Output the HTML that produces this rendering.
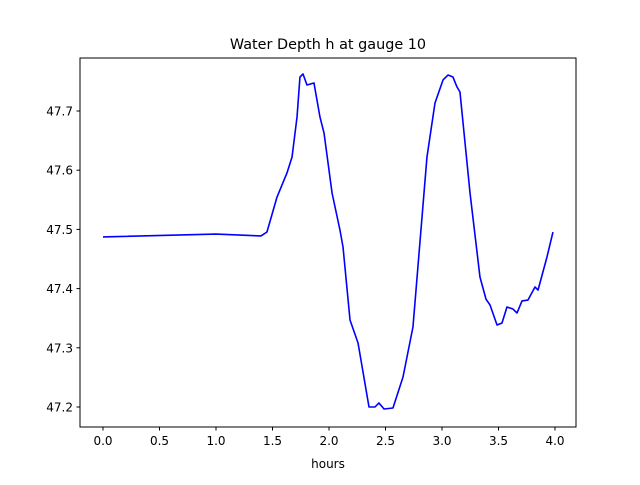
<!DOCTYPE html>
<html><head><meta charset="utf-8"><style>
body{margin:0;background:#fff}
svg{font-family:"DejaVu Sans","Liberation Sans",sans-serif}
</style></head><body>
<svg id="c" width="640" height="480" viewBox="0 0 640 480">
<rect width="640" height="480" fill="#fff"/>
<text x="328" y="49" font-size="14.4" text-anchor="middle">Water Depth h at gauge 10</text>
<text x="328" y="468" font-size="12" text-anchor="middle">hours</text>
<g id="ticks"></g>
<polyline id="line" fill="none" stroke="#0000ff" stroke-width="1.6" stroke-linejoin="round"/>
<rect x="80" y="58" width="496" height="369" fill="none" stroke="#000" stroke-width="1"/>
</svg>
<script>
const pxs=[103,216,261,267,277,287,292,297,300,303,307,314,320,324,332,340,343,350,358,369,375,379,384,393,403,413,427,435,443,448,453,457,460,470,480,486,490,497,502,507,513,517,522,528,535,538,547,553];
const hours=pxs.map(p=>+((p-103)/113).toFixed(3));
const pys=[237,234,236,232,197,173,157,117,77,74,85,83,117,133,193,230,247,320,343,407,407,403,409,408,377,327,157,103,80,75,77,87,92,193,277,299,305,325,323,307,309,313,301,300,287,290,257,232];
const depth=pys.map(p=>+(47.2+(407-p)/592).toFixed(4));
const xTicks=[0,0.5,1,1.5,2,2.5,3,3.5,4];
const xTickLabels=["0.0","0.5","1.0","1.5","2.0","2.5","3.0","3.5","4.0"];
const yTicks=[47.2,47.3,47.4,47.5,47.6,47.7];
const yTickLabels=["47.2","47.3","47.4","47.5","47.6","47.7"];
const X=h=>103+h*113, Y=v=>407-(v-47.2)*592;
const ns="http://www.w3.org/2000/svg", g=document.getElementById('ticks');
function mk(t,a){const e=document.createElementNS(ns,t);for(const k in a)e.setAttribute(k,a[k]);g.appendChild(e);return e;}
xTicks.forEach((t,i)=>{
 const l=mk('line',{x1:X(t),x2:X(t),y1:427,y2:430.5,stroke:'#000'});
 
 
 const tx=mk('text',{x:X(t),y:445,'font-size':12,'text-anchor':'middle'});tx.textContent=xTickLabels[i];
 
 
});
yTicks.forEach((t,i)=>{
 const l=mk('line',{x1:76.5,x2:80,y1:Y(t),y2:Y(t),stroke:'#000'});
 
 
 const tx=mk('text',{x:73,y:Y(t)+4.5,'font-size':12,'text-anchor':'end'});tx.textContent=yTickLabels[i];
 
 
});
document.getElementById('line').setAttribute('points',hours.map((h,i)=>X(h)+','+Y(depth[i])).join(' '));
</script>
</body></html>
